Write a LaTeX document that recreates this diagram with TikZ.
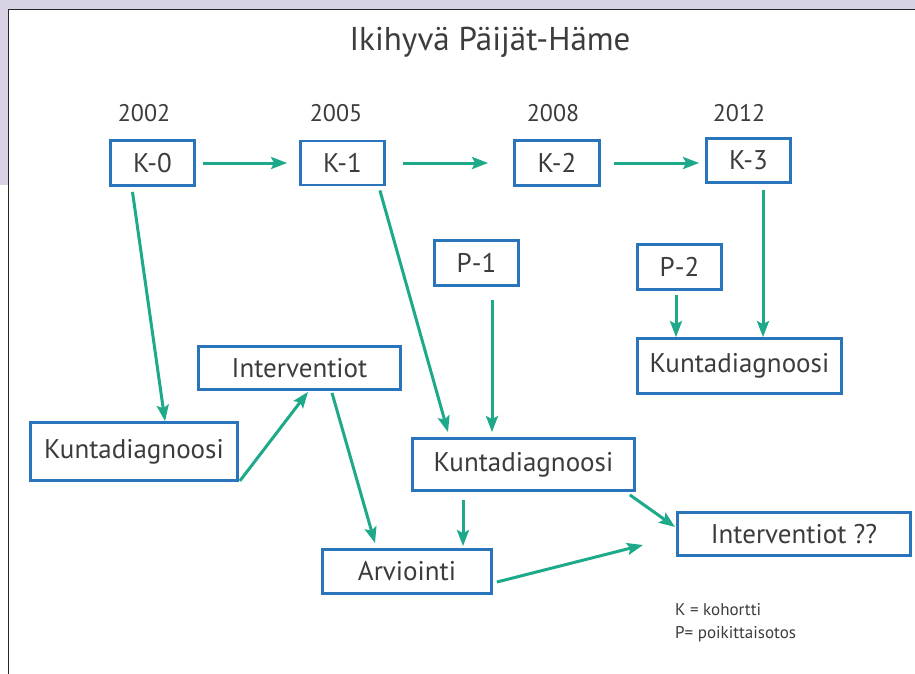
\documentclass[tikz,border=0pt]{standalone}
\usepackage{fontspec}
\setmainfont{PT Sans}
\usetikzlibrary{arrows.meta,calc}
\definecolor{boxblue}{HTML}{2A74BC}
\definecolor{arrteal}{HTML}{1DA98A}
\definecolor{txt}{HTML}{3C3C3C}
\definecolor{lav}{HTML}{D9D1E4}
\begin{document}
\begin{tikzpicture}[x=1pt,y=-1pt,
  box/.style={draw=boxblue,line width=2.8pt,fill=white,text=txt,inner sep=0pt,
    font=\fontsize{27}{30}\selectfont},
  year/.style={text=txt,inner sep=0pt,font=\fontsize{24}{28}\selectfont},
  arr/.style={draw=arrteal,line width=3pt,-{Stealth[length=16pt,width=12pt,inset=3pt]}},
  legend/.style={text=txt,inner sep=0pt,anchor=west,font=\fontsize{17}{20}\selectfont}]
\useasboundingbox (0,0) rectangle (915,674);
\fill[white] (0,0) rectangle (915,674);
\fill[lav] (0,0) rectangle (915,9.5);
\fill[lav] (0,0) rectangle (8.5,185);
\draw[line width=1.3pt,black!85] (8.5,674) -- (8.5,9.5) -- (915,9.5);

\node[text=txt,inner sep=0pt,font=\fontsize{33}{36}\selectfont] (title) at (490,42) {Ikihyvä Päijät-Häme};

\node[year] (y0) at (144,113) {2002};
\node[year] (y1) at (336,113) {2005};
\node[year] (y2) at (553,113) {2008};
\node[year] (y3) at (739,113) {2012};

\node[box,minimum width=84pt,minimum height=45pt] (K0) at (152.5,163) {K-0};
\node[box,minimum width=84pt,minimum height=44pt] (K1) at (342.5,163) {K-1};
\node[box,minimum width=85pt,minimum height=45pt] (K2) at (557,163) {K-2};
\node[box,minimum width=84pt,minimum height=44pt] (K3) at (748.5,160.5) {K-3};
\node[box,minimum width=84pt,minimum height=45pt] (P1) at (476.5,263) {P-1};
\node[box,minimum width=84pt,minimum height=45pt] (P2) at (679.5,267) {P-2};
\node[box,minimum width=207pt,minimum height=58pt] (KL) at (134,451.5) {Kuntadiagnoosi};
\node[box,minimum width=202pt,minimum height=43pt] (IV) at (299.5,368) {Interventiot};
\node[box,minimum width=222pt,minimum height=52pt] (KM) at (523.5,464.5) {Kuntadiagnoosi};
\node[box,minimum width=204pt,minimum height=55pt] (KR) at (739.5,366) {Kuntadiagnoosi};
\node[box,minimum width=169pt,minimum height=44pt] (AR) at (407,571.5) {Arviointi};
\node[box,minimum width=233pt,minimum height=43pt] (IQ) at (794,534) {Interventiot ??};

\node[legend] (L1) at (675,610) {K = kohortti};
\node[legend] (L2) at (675,634) {P= poikittaisotos};

\coordinate (free) at (643,545);

\draw[arr] ([xshift=7pt]K0.east) -- ([xshift=-12pt]K1.west);
\draw[arr] ([xshift=17pt]K1.east) -- ([xshift=-25pt]K2.west);
\draw[arr] ([xshift=13pt]K2.east) -- ([xshift=-6pt,yshift=-2.5pt]K3.west);
\draw[arr] ([xshift=-20pt,yshift=-5pt]K0.south) -- ([xshift=31pt]KL.north);
\draw[arr] ([xshift=1pt,yshift=1pt]KL.south east) -- ([xshift=8.5pt,yshift=-1pt]IV.south);
\draw[arr] ([xshift=32.5pt,yshift=-2pt]IV.south) -- ([xshift=-32pt,yshift=5pt]AR.north);
\draw[arr] ([xshift=-6pt,yshift=-4pt]K1.south east) -- ([xshift=-75.5pt,yshift=5pt]KM.north);
\draw[arr] ([xshift=15.5pt,yshift=-13pt]P1.south) -- ([xshift=-31.5pt,yshift=5pt]KM.north);
\draw[arr] ([xshift=-3.5pt,yshift=-4pt]P2.south) -- ([xshift=-63.5pt]KR.north);
\draw[arr] ([xshift=14.5pt,yshift=-6pt]K3.south) -- ([xshift=23.5pt]KR.north);
\draw[arr] ([xshift=-60.5pt,yshift=-8pt]KM.south) -- ([xshift=56pt,yshift=2pt]AR.north);
\draw[arr] ([xshift=-6pt,yshift=-3pt]KM.south east) -- ([xshift=-1pt,yshift=7pt]IQ.west);
\draw[arr] ([xshift=4pt,yshift=-10.5pt]AR.east) -- (free);
\end{tikzpicture}
\end{document}
